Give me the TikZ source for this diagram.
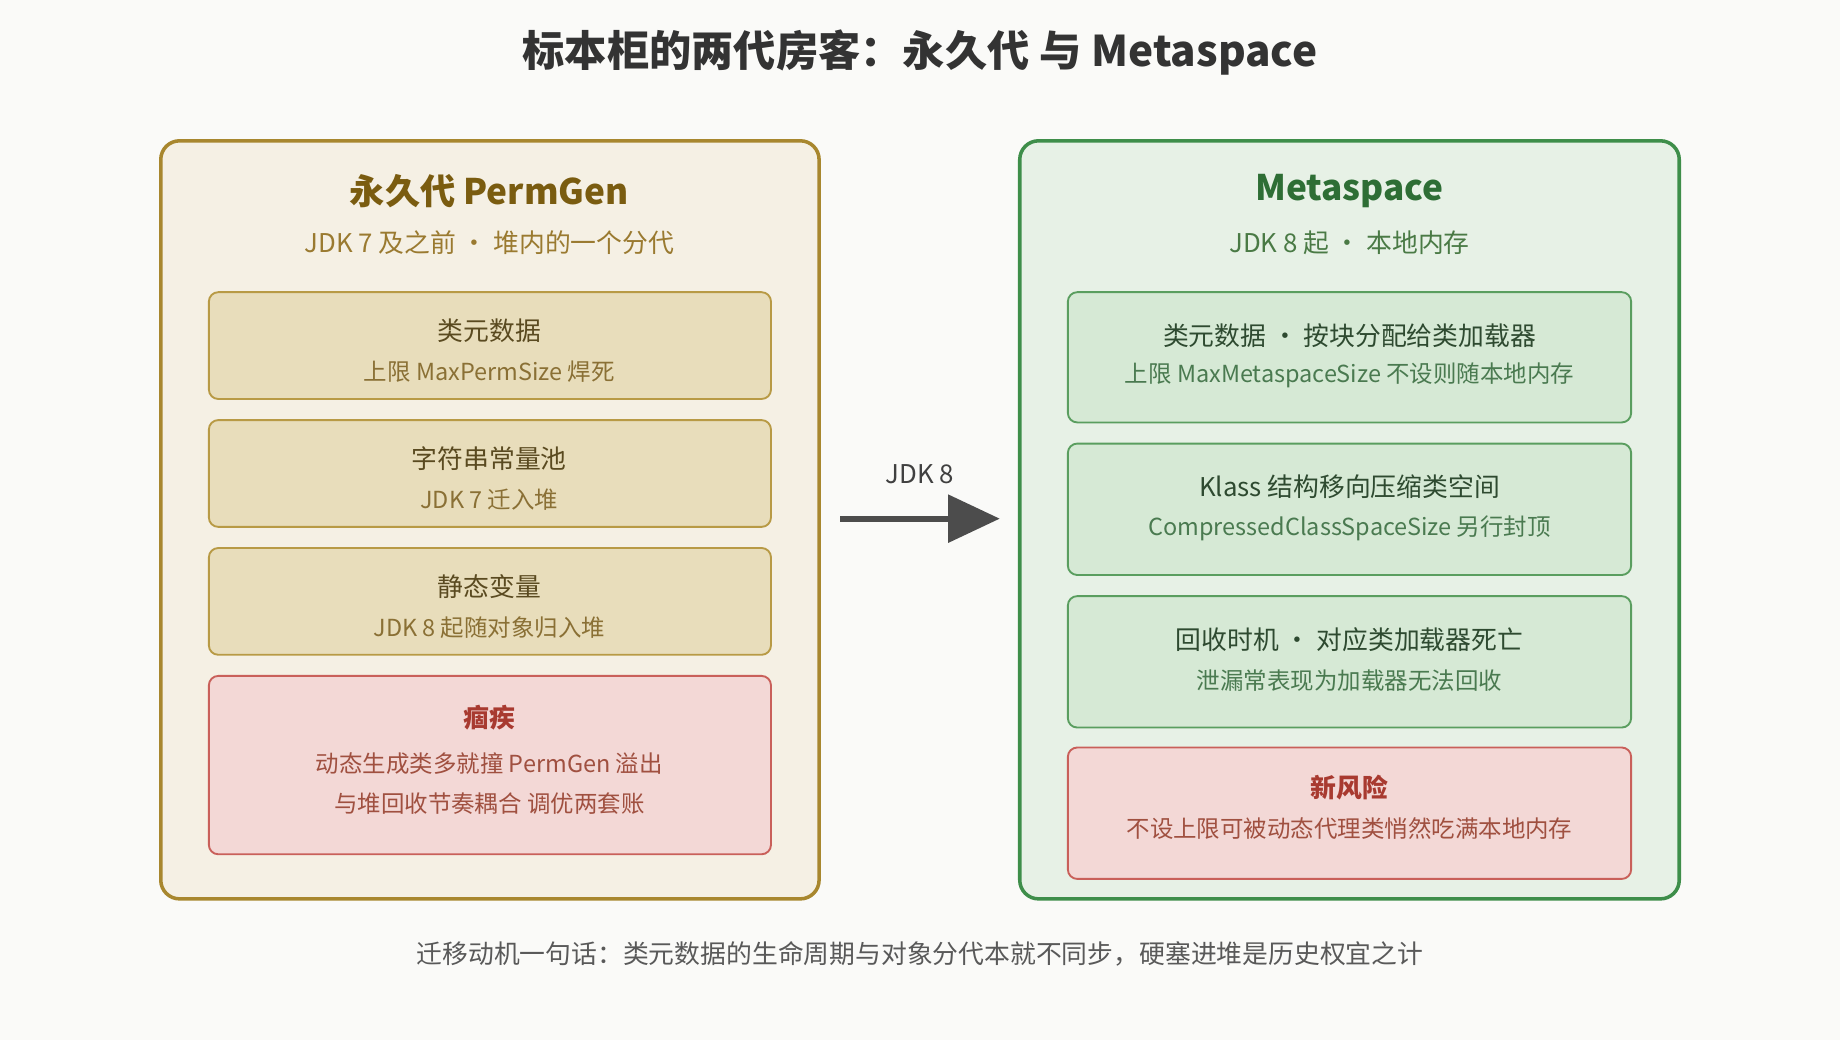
\documentclass[tikz,border=0pt]{standalone}
\usepackage{fontspec}
\setmainfont{Noto Sans CJK SC}
\usetikzlibrary{arrows.meta}
\definecolor{bg}{HTML}{FAFAF8}
\definecolor{lfill}{HTML}{F5F0E4}
\definecolor{lbord}{HTML}{A8872E}
\definecolor{ltitle}{HTML}{7A5C10}
\definecolor{lsub}{HTML}{9A7A30}
\definecolor{lbfill}{HTML}{E8DDBB}
\definecolor{lbbord}{HTML}{B89A45}
\definecolor{lmain}{HTML}{5A4A20}
\definecolor{lbsub}{HTML}{8A7035}
\definecolor{rfill}{HTML}{E7F1E6}
\definecolor{rbord}{HTML}{3E8E4A}
\definecolor{rtitle}{HTML}{2E6E35}
\definecolor{rsub}{HTML}{4A7A45}
\definecolor{rbfill}{HTML}{D6E9D5}
\definecolor{rbbord}{HTML}{5A9E5F}
\definecolor{rmain}{HTML}{2E4A30}
\definecolor{rbsub}{HTML}{4A7A50}
\definecolor{redfill}{HTML}{F3D8D6}
\definecolor{redbord}{HTML}{C9605A}
\definecolor{redtitle}{HTML}{A83A30}
\definecolor{redtext}{HTML}{A05040}
\begin{document}
\begin{tikzpicture}[x=0.5pt,y=-0.5pt,
 panel/.style={draw, line width=1.5pt, rounded corners=8pt},
 box/.style={draw, line width=0.8pt, rounded corners=4pt},
 t/.style={inner sep=0pt, font=\fontsize{11}{13}\selectfont},
 s/.style={inner sep=0pt, font=\fontsize{10}{12}\selectfont}]
\fill[bg] (0,0) rectangle (1568,886);
\useasboundingbox (0,0) rectangle (1568,886);
\node[t, font=\fontsize{18}{22}\bfseries, text=black!80] (title) at (784,45) {标本柜的两代房客：永久代 与 Metaspace};
% left
\draw[panel, lbord, fill=lfill] (137,120) rectangle (698,766);
\node[t, font=\fontsize{15}{18}\bfseries, text=ltitle] (lt) at (417,163) {永久代 PermGen};
\node[t, text=lsub] (ls) at (417,207) {JDK 7 及之前 · 堆内的一个分代};
\draw[box, lbbord, fill=lbfill] (178,249) rectangle (657,340);
\node[t, text=lmain] (l1) at (417,282) {类元数据};
\node[s, text=lbsub] (l1s) at (417,317) {上限 MaxPermSize 焊死};
\draw[box, lbbord, fill=lbfill] (178,358) rectangle (657,449);
\node[t, text=lmain] (l2) at (417,391) {字符串常量池};
\node[s, text=lbsub] (l2s) at (417,426) {JDK 7 迁入堆};
\draw[box, lbbord, fill=lbfill] (178,467) rectangle (657,558);
\node[t, text=lmain] (l3) at (417,500) {静态变量};
\node[s, text=lbsub] (l3s) at (417,535) {JDK 8 起随对象归入堆};
\draw[box, redbord, fill=redfill] (178,576) rectangle (657,728);
\node[t, font=\fontsize{11}{13}\bfseries, text=redtitle] (l4) at (417,612) {痼疾};
\node[s, text=redtext] (l4a) at (417,651) {动态生成类多就撞 PermGen 溢出};
\node[s, text=redtext] (l4b) at (417,685) {与堆回收节奏耦合 调优两套账};
% arrow
\coordinate (a1) at (716,442);
\coordinate (a2) at (852,442);
\draw[line width=2.5pt, black!70, -{Triangle[length=22pt,width=20pt]}] (a1) -- (a2);
\node[t, text=black!75] (jdk) at (784,404) {JDK 8};
% right
\draw[panel, rbord, fill=rfill] (869,120) rectangle (1431,766);
\node[t, font=\fontsize{15}{18}\bfseries, text=rtitle] (rt) at (1150,163) {Metaspace};
\node[t, text=rsub] (rs) at (1150,207) {JDK 8 起 · 本地内存};
\draw[box, rbbord, fill=rbfill] (910,249) rectangle (1390,360);
\node[t, text=rmain] (r1) at (1150,286) {类元数据 · 按块分配给类加载器};
\node[s, text=rbsub] (r1s) at (1150,320) {上限 MaxMetaspaceSize 不设则随本地内存};
\draw[box, rbbord, fill=rbfill] (910,378) rectangle (1390,490);
\node[t, text=rmain] (r2) at (1150,415) {Klass 结构移向压缩类空间};
\node[s, text=rbsub] (r2s) at (1150,450) {CompressedClassSpaceSize 另行封顶};
\draw[box, rbbord, fill=rbfill] (910,508) rectangle (1390,620);
\node[t, text=rmain] (r3) at (1150,545) {回收时机 · 对应类加载器死亡};
\node[s, text=rbsub] (r3s) at (1150,580) {泄漏常表现为加载器无法回收};
\draw[box, redbord, fill=redfill] (910,637) rectangle (1390,749);
\node[t, font=\fontsize{11}{13}\bfseries, text=redtitle] (r4) at (1150,671) {新风险};
\node[s, text=redtext] (r4a) at (1150,706) {不设上限可被动态代理类悄然吃满本地内存};
% footer
\node[t, text=black!65] (foot) at (784,813) {迁移动机一句话：类元数据的生命周期与对象分代本就不同步，硬塞进堆是历史权宜之计};
\end{tikzpicture}
\end{document}
